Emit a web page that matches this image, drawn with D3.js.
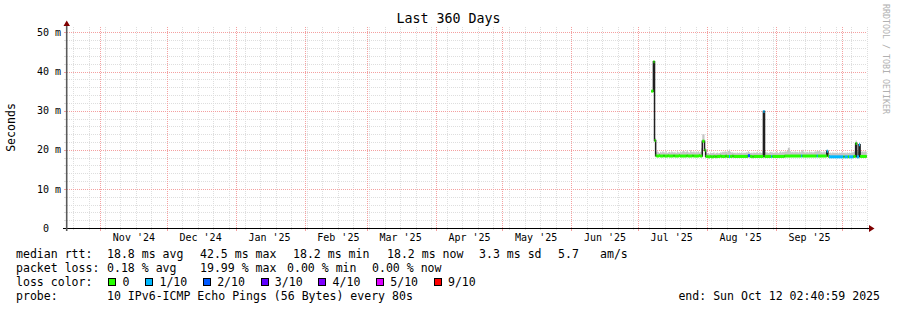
<!DOCTYPE html>
<html lang="en">
<head>
<meta charset="UTF-8">
<title>Last 360 Days</title>
<script src="https://cdn.jsdelivr.net/npm/d3@7"></script>
<style>
	html, body {
		margin: 0;
		padding: 0;
		background: #fff;
	}
	svg {
		display: block;
		font-family: "DejaVu Sans Mono", monospace;
	}
</style>
</head>
<body>
<div id="chart"></div>
<script>

// graph window (end time is printed in the legend)
const graphStart = new Date(Date.UTC(2024, 9, 17, 2, 40, 59))
const graphEnd = new Date(Date.UTC(2025, 9, 12, 2, 40, 59))

// consolidated rows, 12 h each, first one starts 2025-07-07 00:00
const firstRow = new Date(Date.UTC(2025, 6, 7))
const rowHours = 12

const medianMs = [
	35.0, 35.0, 42.5, 22.4, 18.5, 18.4, 18.4, 18.5, 18.4, 18.4,
	18.4, 18.5, 18.4, 18.4, 18.4, 18.5, 18.4, 18.4, 18.4, 18.4,
	18.5, 18.4, 18.4, 18.4, 18.4, 18.5, 18.4, 18.4, 18.4, 18.4,
	18.4, 18.4, 18.5, 18.4, 18.4, 18.4, 18.4, 18.5, 18.4, 18.4,
	18.4, 18.4, 18.4, 18.5, 18.4, 18.4, 22.2, 22.2, 19.9, 18.3,
	18.3, 18.2, 18.2, 18.3, 18.2, 18.2, 18.3, 18.3, 18.2, 18.3,
	18.3, 18.3, 18.4, 18.3, 18.3, 18.3, 18.3, 18.4, 18.3, 18.3,
	18.3, 18.3, 18.3, 18.4, 18.3, 18.3, 18.3, 18.3, 18.3, 18.3,
	18.3, 18.3, 18.3, 18.3, 18.3, 18.3, 18.3, 18.5, 18.5, 18.3,
	18.3, 18.2, 18.3, 18.3, 18.3, 18.3, 18.3, 18.3, 18.3, 18.3,
	18.3, 29.8, 18.3, 18.3, 18.3, 18.3, 18.3, 18.3, 18.3, 18.3,
	18.3, 18.3, 18.3, 18.3, 18.3, 18.3, 18.3, 18.3, 18.3, 18.3,
	18.4, 18.4, 18.4, 18.4, 18.4, 18.4, 18.4, 18.4, 18.4, 18.4,
	18.4, 18.4, 18.4, 18.4, 18.4, 18.4, 18.4, 18.4, 18.4, 18.4,
	18.4, 18.4, 18.4, 18.4, 18.4, 18.4, 18.4, 18.4, 18.4, 18.4,
	18.4, 18.4, 18.4, 18.4, 18.4, 18.4, 18.4, 18.4, 19.6, 18.4,
	18.2, 18.2, 18.2, 18.2, 18.2, 18.2, 18.2, 18.2, 18.2, 18.2,
	18.2, 18.2, 18.2, 18.2, 18.2, 18.2, 18.2, 18.2, 18.2, 18.2,
	18.2, 18.2, 18.3, 18.3, 21.6, 18.2, 18.2, 21.3, 18.3, 18.3,
	18.3, 18.3, 18.3, 18.3
]

// highest ping of each row (top of the smoke)
const smokeTopMs = [
	35.0, 35.0, 42.5, 23.0, 19.3, 19.6, 19.4, 19.2, 19.5, 19.3,
	19.6, 19.4, 19.3, 19.7, 19.2, 19.4, 19.5, 19.3, 19.6, 19.4,
	19.3, 19.5, 19.2, 19.6, 19.4, 19.3, 19.5, 19.4, 19.6, 19.7,
	19.4, 19.5, 19.9, 19.4, 19.3, 19.9, 19.5, 19.4, 19.6, 19.3,
	19.5, 19.4, 19.6, 19.3, 19.5, 20.4, 24.0, 24.0, 20.4, 19.3,
	19.1, 19.2, 19.0, 19.3, 19.1, 19.2, 19.4, 19.0, 19.2, 19.3,
	19.1, 19.2, 19.4, 19.3, 19.5, 19.4, 19.6, 19.5, 19.4, 19.7,
	20.1, 19.5, 19.3, 19.4, 19.2, 19.3, 19.1, 19.4, 19.2, 19.3,
	19.2, 19.4, 19.1, 19.3, 19.2, 19.4, 19.3, 19.6, 19.4, 19.2,
	19.3, 19.1, 19.4, 19.2, 19.3, 19.5, 19.2, 19.4, 19.3, 19.2,
	19.6, 30.0, 19.5, 19.3, 19.4, 19.2, 19.3, 19.5, 19.4, 19.3,
	19.2, 19.4, 19.3, 19.5, 19.2, 19.4, 19.6, 19.3, 19.5, 19.4,
	19.6, 19.5, 19.7, 20.5, 20.4, 19.6, 19.4, 19.5, 19.3, 19.6,
	19.4, 19.5, 19.3, 19.6, 19.4, 19.7, 20.0, 19.5, 19.3, 19.4,
	19.5, 19.3, 19.6, 19.4, 19.5, 19.3, 19.4, 19.6, 19.5, 19.7,
	19.6, 19.8, 19.4, 19.5, 19.3, 19.6, 19.4, 19.5, 20.1, 19.4,
	19.2, 19.3, 19.1, 19.4, 19.2, 19.3, 19.2, 19.4, 19.1, 19.3,
	19.2, 19.4, 19.3, 19.2, 19.3, 19.1, 19.4, 19.2, 19.3, 19.2,
	19.4, 19.3, 19.5, 19.6, 22.4, 19.6, 19.5, 21.8, 19.7, 19.5,
	19.6, 19.4, 19.7, 19.5
]

// lost pings out of 10 per row
const lossCount = [
	0, 0, 0, 0, 0, 0, 0, 0, 0, 0,
	0, 0, 0, 0, 0, 0, 0, 0, 0, 0,
	0, 0, 0, 0, 0, 0, 0, 0, 0, 0,
	0, 0, 0, 0, 0, 0, 0, 0, 0, 0,
	0, 0, 0, 0, 0, 0, 0, 0, 0, 0,
	0, 0, 0, 0, 0, 0, 0, 0, 0, 0,
	0, 0, 0, 0, 0, 0, 0, 0, 0, 0,
	1, 0, 0, 0, 0, 0, 0, 0, 0, 0,
	0, 0, 0, 0, 0, 0, 0, 2, 2, 0,
	0, 0, 0, 0, 0, 0, 0, 0, 0, 0,
	0, 1, 0, 0, 0, 0, 0, 0, 1, 0,
	0, 0, 0, 0, 0, 0, 0, 0, 0, 0,
	0, 0, 0, 0, 0, 0, 0, 0, 0, 0,
	0, 0, 0, 0, 0, 1, 0, 0, 0, 0,
	0, 0, 0, 0, 0, 0, 0, 0, 0, 1,
	0, 0, 0, 0, 0, 0, 0, 0, 1, 0,
	1, 1, 1, 1, 1, 1, 1, 1, 1, 1,
	1, 1, 1, 0, 1, 1, 1, 0, 1, 1,
	1, 1, 0, 0, 0, 1, 1, 1, 0, 0,
	0, 0, 0, 0
]

const yTicks = [0, 10, 20, 30, 40, 50]
const yMax = 51.4

const lossLabels = ['0', '1/10', '2/10', '3/10', '4/10', '5/10', '9/10']
const lossColors = ['#26ff00', '#00b8ff', '#0059ff', '#5e00ff', '#7e00ff', '#dd00ff', '#ff0000']
const lossBounds = [1, 2, 3, 4, 5, 9]

const medianStats = ['18.8 ms avg', '42.5 ms max', '18.2 ms min', '18.2 ms now', '3.3 ms sd', '5.7', 'am/s']
const lossStats = ['0.18 % avg', '19.99 % max', '0.00 % min', '0.00 % now']
const probeText = '10 IPv6-ICMP Echo Pings (56 Bytes) every 80s'
const endText = 'end: Sun Oct 12 02:40:59 2025'

// ---- layout ----
const W = 897, H = 310
const plot = {left: 67, right: 867, top: 27, bottom: 228}
const legendFont = 11.55
const charW = 6.95
const medianStatX = [107, 200, 293, 387, 479, 558, 600]
const lossStatX = [107, 200, 287, 372]
const rowY = [258, 272, 286, 300]

const svg = d3.select('#chart').append('svg')
	.attr('width', W)
	.attr('height', H)

svg.append('rect').attr('width', W).attr('height', H).attr('fill', '#fff')

const x = d3.scaleUtc().domain([graphStart, graphEnd]).range([plot.left, plot.right])
const y = d3.scaleLinear().domain([0, yMax]).range([plot.bottom, plot.top])
const lossColor = d3.scaleThreshold().domain(lossBounds).range(lossColors)
const px = v => Math.round(v) + 0.5

// ---- grid ----
const minorCol = '#dedede'
const majorCol = '#f4a0a0'
const grid = svg.append('g').attr('stroke-width', 1).attr('fill', 'none')

function vLine(t, col, tick) {
	const xx = px(x(t))
	grid.append('line').attr('x1', xx).attr('x2', xx).attr('y1', plot.top).attr('y2', plot.bottom)
		.attr('stroke', col).attr('stroke-dasharray', '1,1')
	grid.append('line').attr('x1', xx).attr('x2', xx).attr('y1', plot.bottom).attr('y2', plot.bottom + tick)
		.attr('stroke', col)
}
function hLine(v, col) {
	const yy = px(y(v))
	grid.append('line').attr('x1', plot.left).attr('x2', plot.right).attr('y1', yy).attr('y2', yy)
		.attr('stroke', col).attr('stroke-dasharray', '1,1')
	grid.append('line').attr('x1', plot.left - 3).attr('x2', plot.left).attr('y1', yy).attr('y2', yy)
		.attr('stroke', col)
}

const weeks = d3.utcSunday.range(graphStart, graphEnd)
const months = d3.utcMonth.range(graphStart, graphEnd)
weeks.forEach(t => vLine(t, minorCol, 2))
d3.range(2, yMax, 2).filter(v => v % 10 !== 0).forEach(v => hLine(v, minorCol))
months.forEach(t => vLine(t, majorCol, 3))
yTicks.filter(v => v > 0).forEach(v => hLine(v, majorCol))

// ---- data ----
const rows = medianMs.map((m, i) => ({
	t: d3.utcHour.offset(firstRow, i * rowHours),
	t1: d3.utcHour.offset(firstRow, (i + 1) * rowHours),
	median: m,
	top: smokeTopMs[i],
	loss: lossCount[i]
}))
const last = rows[rows.length - 1]
const stepRows = rows.concat([Object.assign({}, last, {t: last.t1})])

const smoke = d3.area().curve(d3.curveStepAfter)
	.x(d => x(d.t))
	.y0(d => y(d.median))
	.y1(d => y(d.top))
svg.append('path').datum(stepRows).attr('d', smoke).attr('fill', '#c6c6c6')

const medianLine = d3.line().curve(d3.curveStepAfter)
	.x(d => x(d.t))
	.y(d => y(d.median))
svg.append('path').datum(stepRows).attr('d', medianLine)
	.attr('fill', 'none').attr('stroke', '#202020').attr('stroke-width', 1.5)

// loss coloured median pieces, joined where colour and value stay the same
const runs = []
rows.forEach(d => {
	const c = lossColor(d.loss)
	const r = runs[runs.length - 1]
	if (r && r.color === c && r.median === d.median) {
		r.t1 = d.t1
	} else {
		runs.push({t0: d.t, t1: d.t1, median: d.median, color: c})
	}
})
svg.append('g').selectAll('line').data(runs).join('line')
	.attr('x1', d => x(d.t0))
	.attr('x2', d => x(d.t1))
	.attr('y1', d => y(d.median))
	.attr('y2', d => y(d.median))
	.attr('stroke', d => d.color)
	.attr('stroke-width', 3)

// ---- axes ----
svg.append('line').attr('x1', plot.left - 4).attr('x2', plot.right + 3)
	.attr('y1', plot.bottom + 0.5).attr('y2', plot.bottom + 0.5)
	.attr('stroke', '#000')
svg.append('line').attr('x1', 66.7).attr('x2', 66.7)
	.attr('y1', plot.bottom + 3).attr('y2', plot.top - 3)
	.attr('stroke', '#5a5a5a').attr('stroke-width', 1.6)
svg.append('path').attr('d', 'M869,225L874.5,228.5L869,232Z').attr('fill', '#7f0000')
svg.append('path').attr('d', 'M63.5,26L66.7,20.5L70,26Z').attr('fill', '#7f0000')

const labelMonths = months.map(m => d3.utcDay.offset(m, 15)).filter(d => d < graphEnd)
svg.append('g')
	.attr('transform', `translate(0,${plot.bottom})`)
	.call(d3.axisBottom(x).tickValues(labelMonths).tickSize(0).tickPadding(6)
		.tickFormat(d3.utcFormat("%b '%y")))
	.call(g => g.select('.domain').remove())
	.call(g => g.selectAll('text').attr('font-family', '"DejaVu Sans Mono", monospace')
		.attr('font-size', 10).attr('fill', '#000'))

svg.append('g')
	.attr('transform', 'translate(61,0)')
	.call(d3.axisLeft(y).tickValues(yTicks).tickSize(0).tickPadding(0)
		.tickFormat(d => d ? d + ' m' : '0'))
	.call(g => g.select('.domain').remove())
	.call(g => g.selectAll('text').attr('font-family', '"DejaVu Sans Mono", monospace')
		.attr('font-size', 10).attr('fill', '#000')
		.attr('x', d => d ? 0 : -12))

// ---- texts ----
svg.append('text').attr('x', 448.5).attr('y', 23).attr('text-anchor', 'middle')
	.attr('font-size', 13.3).text('Last 360 Days')

svg.append('text').attr('transform', 'translate(15,127.5) rotate(-90)')
	.attr('text-anchor', 'middle').attr('font-size', legendFont).text('Seconds')

svg.append('text').attr('transform', 'translate(883,4) rotate(90)')
	.attr('font-size', 8.3).attr('fill', '#b0b0b0').text('RRDTOOL / TOBI OETIKER')

const legend = svg.append('g').attr('font-size', legendFont).attr('fill', '#000')
	.style('white-space', 'pre')

legend.append('text').attr('x', 16).attr('y', rowY[0]).text('median rtt:')
medianStats.forEach((s, i) => legend.append('text').attr('x', medianStatX[i]).attr('y', rowY[0]).text(s))

legend.append('text').attr('x', 16).attr('y', rowY[1]).text('packet loss:')
lossStats.forEach((s, i) => legend.append('text').attr('x', lossStatX[i]).attr('y', rowY[1]).text(s))

legend.append('text').attr('x', 16).attr('y', rowY[2]).text('loss color:')
let bx = 108.3
lossLabels.forEach((lab, i) => {
	legend.append('rect').attr('x', Math.round(bx) + 0.5).attr('y', rowY[2] - 7.5)
		.attr('width', 7).attr('height', 7)
		.attr('fill', lossColors[i]).attr('stroke', '#000')
	const tx = bx + 14.3
	legend.append('text').attr('x', tx).attr('y', rowY[2]).text(lab)
	bx = tx + lab.length * charW + 15.6
})

legend.append('text').attr('x', 16).attr('y', rowY[3]).text('probe:')
legend.append('text').attr('x', 107).attr('y', rowY[3]).text(probeText)
legend.append('text').attr('x', 880).attr('y', rowY[3]).attr('text-anchor', 'end').text(endText)

</script>
</body>
</html>
